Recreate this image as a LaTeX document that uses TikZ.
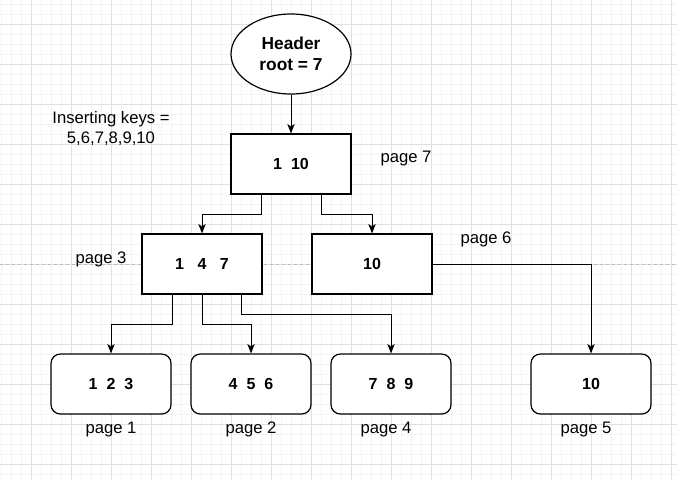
\documentclass[tikz,border=0pt]{standalone}
\usepackage{fontspec}
\setmainfont{Liberation Sans}
\usetikzlibrary{shapes.geometric,arrows.meta}
\definecolor{gridminor}{HTML}{F3F3F3}
\definecolor{gridmajor}{HTML}{E0E0E0}
\definecolor{dashgray}{HTML}{BBBBBB}
\tikzset{
  box/.style={draw=black, line width=0.9pt, fill=white, minimum width=90pt, minimum height=45pt, inner sep=0pt, font=\fontsize{12}{14}\selectfont\bfseries},
  leaf/.style={box, rounded corners=7pt},
  hdr/.style={draw=black, line width=0.9pt, fill=white, ellipse, minimum width=90pt, minimum height=60pt, inner sep=0pt, align=center, font=\fontsize{13}{15.75}\selectfont\bfseries},
  lbl/.style={inner sep=0pt, align=center, font=\fontsize{12.5}{15}\selectfont},
  arr/.style={line width=0.75pt, -{Stealth[length=7pt,width=5.5pt,inset=1.8pt]}},
}
\begin{document}
\begin{tikzpicture}[x=0.75pt,y=-0.75pt]
\useasboundingbox (0,0) rectangle (677,480);
\fill[white] (0,0) rectangle (677,480);
% grid
\foreach \x in {1,11,...,671} \draw[gridminor, line width=0.75pt] (\x,0) -- (\x,480);
\foreach \y in {4,14,...,474} \draw[gridminor, line width=0.75pt] (0,\y) -- (677,\y);
\foreach \x in {31,71,...,671} \draw[gridmajor, line width=0.75pt] (\x,0) -- (\x,480);
\foreach \y in {24,64,...,464} \draw[gridmajor, line width=0.75pt] (0,\y) -- (677,\y);
% dashed guide line
\draw[dashgray, line width=0.75pt, dash pattern=on 2.25pt off 2.25pt] (0,264.5) -- (677,264.5);

% nodes
\node[hdr] (hd) at (291,54) {Header\\root = 7};
\node[box] (p7) at (291,164) {1\hspace{0.56em}10};
\node[box] (p3) at (202,264) {1\hspace{0.84em}4\hspace{0.84em}7};
\node[box] (p6) at (372,264) {10};
\node[leaf] (l1) at (111,384) {1\hspace{0.56em}2\hspace{0.56em}3};
\node[leaf] (l2) at (251,384) {4\hspace{0.56em}5\hspace{0.56em}6};
\node[leaf] (l4) at (391,384) {7\hspace{0.56em}8\hspace{0.56em}9};
\node[leaf] (l5) at (591,384) {10};

% labels
\node[lbl] (keys) at (111,129) {Inserting keys =\\5,6,7,8,9,10};
\node[lbl] (t7) at (406,158) {page 7};
\node[lbl] (t6) at (486,239) {page 6};
\node[lbl] (t3) at (101,259) {page 3};
\node[lbl] (t1) at (111,429) {page 1};
\node[lbl] (t2) at (251,429) {page 2};
\node[lbl] (t4) at (386,429) {page 4};
\node[lbl] (t5) at (586,429) {page 5};

% connectors
\draw[arr] (hd.south) -- (p7.north);
\draw[arr] (p7.south) ++(-30,0) -- ++(0,20) -| (p3.north);
\draw[arr] (p7.south) ++(30,0) -- ++(0,20) -| (p6.north);
\draw[arr] (p6.east) -| (l5.north);
\draw[arr] (p3.south) ++(-30,0) -- ++(0,30) -| (l1.north);
\draw[arr] (p3.south) -- ++(0,30) -| (l2.north);
\draw[arr] (p3.south) ++(39,0) -- ++(0,20) -| (l4.north);
\end{tikzpicture}
\end{document}
